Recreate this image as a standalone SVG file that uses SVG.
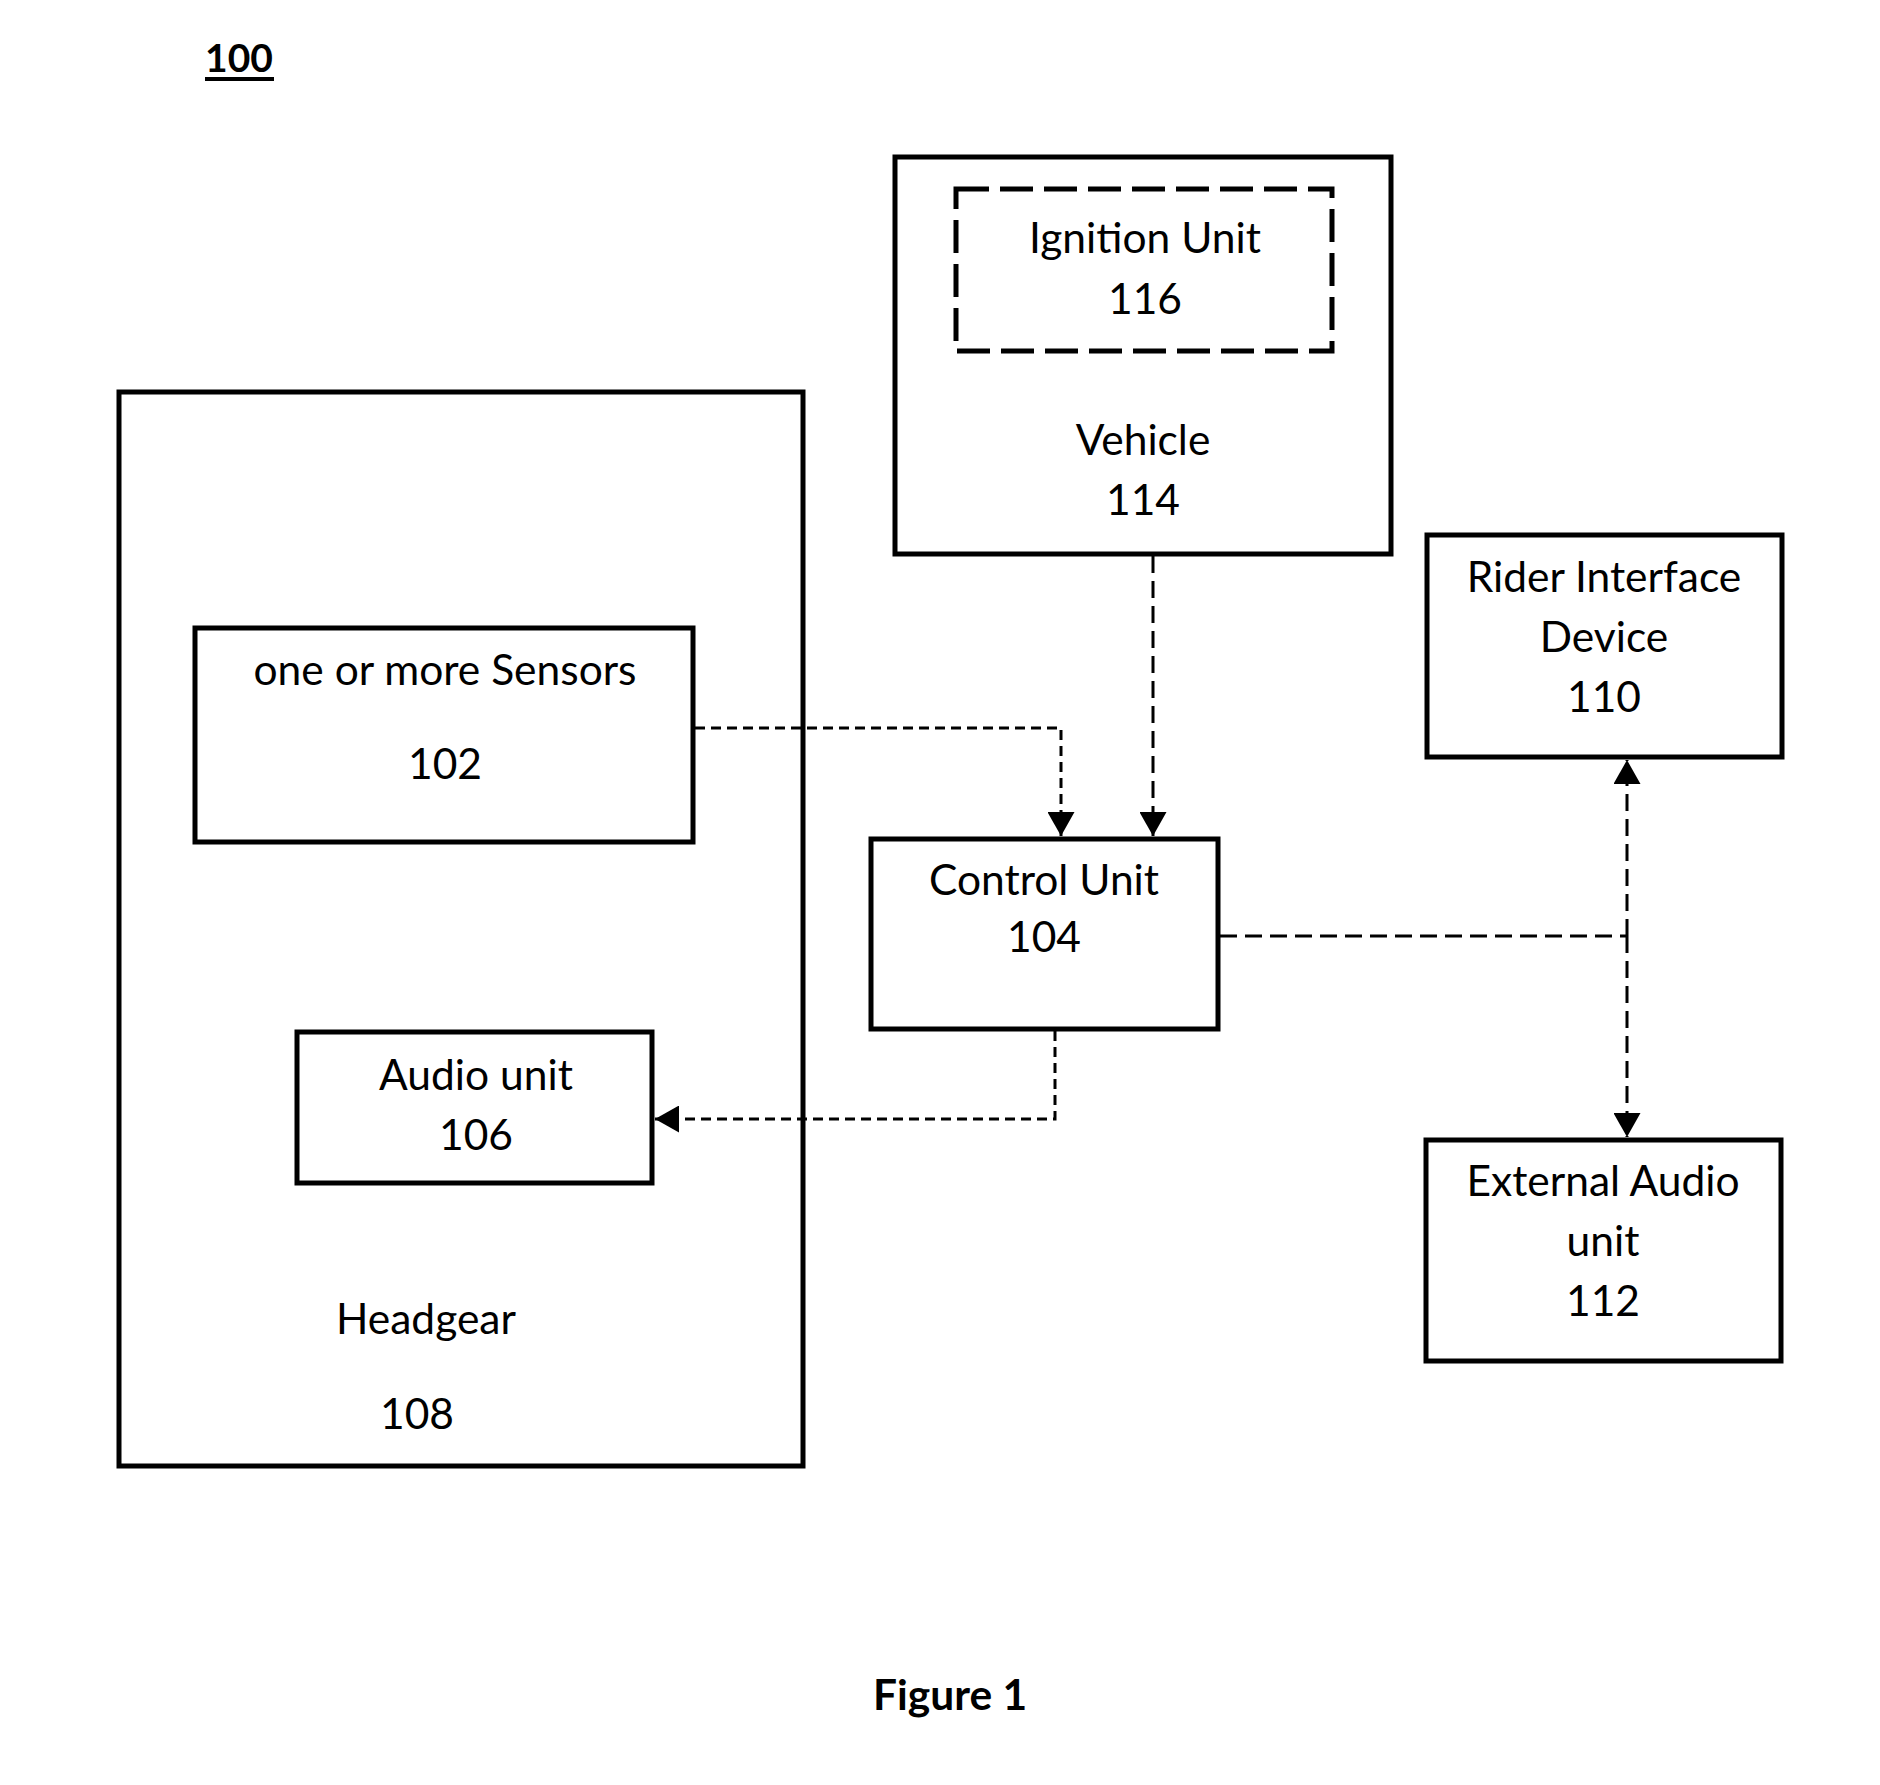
<svg xmlns="http://www.w3.org/2000/svg" width="1880" height="1785" viewBox="0 0 1880 1785">
<style>
.box{fill:none;stroke:#000;stroke-width:5}
.dbox{fill:none;stroke:#000;stroke-width:5;stroke-dasharray:33 11}
.t{font-family:Lato,"Liberation Sans",sans-serif;font-size:42.5px;fill:#000;text-anchor:middle}
.b{font-family:Lato,"Liberation Sans",sans-serif;font-weight:bold;fill:#000;text-anchor:middle}
.c{fill:none;stroke:#000;stroke-width:3}
.sd{stroke-dasharray:10 6}
.ld{stroke-dasharray:17 8}
</style>
<defs>
<marker id="ah" markerWidth="9" markerHeight="9" refX="8" refY="4.5" orient="auto" markerUnits="strokeWidth">
<path d="M0,0 L8,4.5 L0,9 Z" fill="#000"/>
</marker>
</defs>
<rect width="1880" height="1785" fill="#fff"/>
<g id="title">
<text class="b" x="239" y="72" font-size="39">100</text>
<line x1="205" y1="79" x2="274" y2="79" stroke="#000" stroke-width="4"/>
</g>
<g id="headgear">
<rect class="box" x="119" y="392" width="684" height="1074"/>
<text class="t" x="426" y="1334">Headgear</text>
<text class="t" x="417" y="1429">108</text>
</g>
<g id="sensors">
<rect class="box" x="195" y="628" width="498" height="214"/>
<text class="t" x="445" y="685">one or more Sensors</text>
<text class="t" x="445" y="779">102</text>
</g>
<g id="audio">
<rect class="box" x="297" y="1032" width="355" height="151"/>
<text class="t" x="476" y="1090">Audio unit</text>
<text class="t" x="476" y="1150">106</text>
</g>
<g id="vehicle">
<rect class="box" x="895" y="157" width="496" height="397"/>
<text class="t" x="1143" y="455">Vehicle</text>
<text class="t" x="1143" y="515">114</text>
</g>
<g id="ignition">
<rect class="dbox" x="956" y="189" width="376" height="162"/>
<text class="t" x="1145" y="253">Ignition Unit</text>
<text class="t" x="1145" y="314">116</text>
</g>
<g id="control">
<rect class="box" x="871" y="839" width="347" height="190"/>
<text class="t" x="1044" y="895">Control Unit</text>
<text class="t" x="1044" y="952">104</text>
</g>
<g id="rider">
<rect class="box" x="1427" y="535" width="355" height="222"/>
<text class="t" x="1604" y="592">Rider Interface</text>
<text class="t" x="1604" y="652">Device</text>
<text class="t" x="1604" y="712">110</text>
</g>
<g id="external">
<rect class="box" x="1426" y="1140" width="355" height="221"/>
<text class="t" x="1603" y="1196">External Audio</text>
<text class="t" x="1603" y="1256">unit</text>
<text class="t" x="1603" y="1316">112</text>
</g>
<g id="caption">
<text class="b" x="950" y="1710" font-size="42.5">Figure 1</text>
</g>
<g id="connectors">
<path class="c sd" d="M695,728 H1061 V836" marker-end="url(#ah)"/>
<path class="c ld" d="M1153,556 V836" marker-end="url(#ah)"/>
<path class="c sd" d="M1055,1031 V1119 H655" marker-end="url(#ah)"/>
<path class="c ld" d="M1220,936 H1627"/>
<path class="c ld" d="M1627,936 V760" marker-end="url(#ah)"/>
<path class="c ld" d="M1627,936 V1137" marker-end="url(#ah)"/>
</g>
</svg>
